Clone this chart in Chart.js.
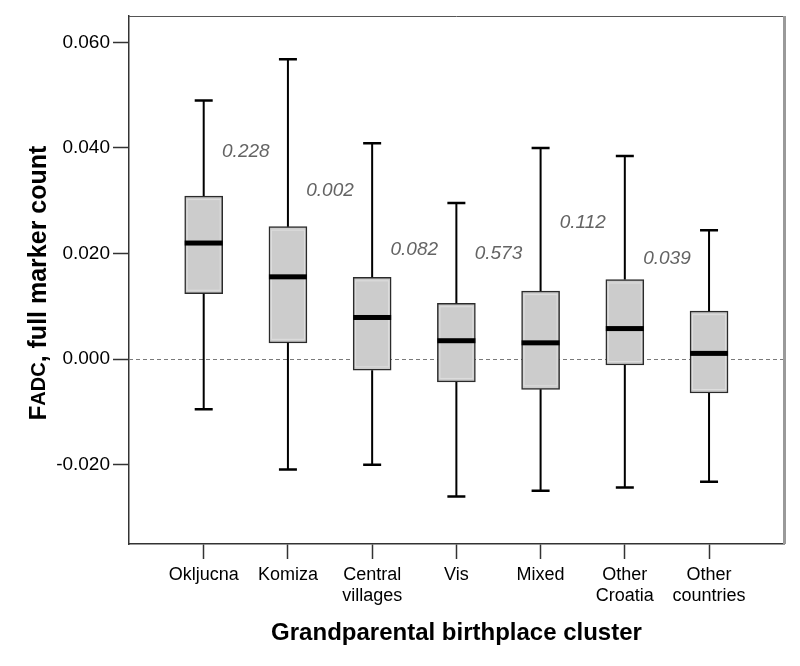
<!DOCTYPE html>
<html>
<head>
<meta charset="utf-8">
<script src="https://cdn.jsdelivr.net/npm/chart.js@4"></script>
<style>
  html, body { margin: 0; padding: 0; background: #fff; }
  #wrap { width: 800px; height: 666px; }
</style>
</head>
<body>
<div id="wrap"><canvas id="myChart" width="800" height="666"></canvas></div>
<script>
// categories (multi-line labels)
let categories = [
    ['Okljucna'],
    ['Komiza'],
    ['Central', 'villages'],
    ['Vis'],
    ['Mixed'],
    ['Other', 'Croatia'],
    ['Other', 'countries'],
];

// box plot values
let whiskerHigh = [0.0490, 0.0568, 0.0409, 0.0296, 0.0400, 0.0385, 0.0244];
let q3          = [0.0309, 0.0251, 0.0155, 0.0106, 0.0129, 0.0151, 0.0091];
let median      = [0.0220, 0.0156, 0.0079, 0.0035, 0.0031, 0.0058, 0.0011];
let q1          = [0.0124, 0.0031, -0.0021, -0.0043, -0.0057, -0.0011, -0.0064];
let whiskerLow  = [-0.0095, -0.0209, -0.0200, -0.0260, -0.0249, -0.0243, -0.0232];

// p-values between neighbouring clusters
let pValues = ['0.228', '0.002', '0.082', '0.573', '0.112', '0.039'];
let pValueY = [0.0393, 0.0319, 0.0208, 0.0199, 0.0258, 0.0191];

let yTicks = [-0.020, 0.000, 0.020, 0.040, 0.060];

let boxData = categories.map(function (c, i) {
    return { x: i, y: [q1[i], q3[i]] };
});

// draws zero line, whiskers, medians, p-values, titles
let boxPlugin = {
    id: 'boxExtras',
    beforeDatasetsDraw: function (chart) {
        let ctx = chart.ctx;
        let area = chart.chartArea;
        let y0 = Math.round(chart.scales.y.getPixelForValue(0)) + 0.5;
        ctx.save();
        ctx.strokeStyle = '#7a7a7a';
        ctx.lineWidth = 1;
        ctx.setLineDash([4, 3]);
        ctx.beginPath();
        ctx.moveTo(area.left, y0);
        ctx.lineTo(area.right, y0);
        ctx.stroke();
        ctx.restore();
    },
    afterDatasetsDraw: function (chart) {
        let ctx = chart.ctx;
        let xs = chart.scales.x;
        let ys = chart.scales.y;
        ctx.save();
        categories.forEach(function (c, i) {
            let x = xs.getPixelForValue(i);
            let top = ys.getPixelForValue(q3[i]);
            let bot = ys.getPixelForValue(q1[i]);
            let hi = ys.getPixelForValue(whiskerHigh[i]);
            let lo = ys.getPixelForValue(whiskerLow[i]);
            let med = ys.getPixelForValue(median[i]);

            // lighter inner edge of the box
            ctx.strokeStyle = '#dedede';
            ctx.lineWidth = 1;
            ctx.strokeRect(x - 16.5, top + 3.5, 33, bot - top - 7);

            // whiskers
            ctx.strokeStyle = '#000';
            ctx.lineWidth = 2;
            ctx.beginPath();
            ctx.moveTo(x, top);
            ctx.lineTo(x, hi);
            ctx.moveTo(x, bot);
            ctx.lineTo(x, lo);
            ctx.stroke();
            ctx.lineWidth = 2.5;
            ctx.beginPath();
            ctx.moveTo(x - 9, hi);
            ctx.lineTo(x + 9, hi);
            ctx.moveTo(x - 9, lo);
            ctx.lineTo(x + 9, lo);
            ctx.stroke();

            // median
            ctx.fillStyle = '#000';
            ctx.fillRect(x - 19, med - 2.5, 38, 5);
        });

        // p-values
        ctx.fillStyle = '#646464';
        ctx.font = 'italic 19px "Liberation Sans", Arial, sans-serif';
        ctx.textAlign = 'center';
        ctx.textBaseline = 'middle';
        pValues.forEach(function (p, i) {
            ctx.fillText(p, xs.getPixelForValue(i + 0.5), ys.getPixelForValue(pValueY[i]));
        });
        ctx.restore();
    },
    afterDraw: function (chart) {
        let ctx = chart.ctx;
        let area = chart.chartArea;
        ctx.save();
        // frame top and right
        ctx.strokeStyle = '#555';
        ctx.lineWidth = 1;
        ctx.beginPath();
        ctx.moveTo(area.left, area.top + 0.5);
        ctx.lineTo(area.right, area.top + 0.5);
        ctx.stroke();
        ctx.strokeStyle = '#9a9a9a';
        ctx.lineWidth = 3;
        ctx.beginPath();
        ctx.moveTo(area.right + 0.5, area.top);
        ctx.lineTo(area.right + 0.5, area.bottom);
        ctx.stroke();

        // x title
        ctx.fillStyle = '#000';
        ctx.font = 'bold 24px "Liberation Sans", Arial, sans-serif';
        ctx.textAlign = 'center';
        ctx.textBaseline = 'middle';
        ctx.fillText('Grandparental birthplace cluster', (area.left + area.right) / 2, 633);

        // y title with subscript
        let partF = 'F';
        let partSub = 'ADC';
        let partRest = ', full marker count';
        let fF = 'bold 24px "Liberation Sans", Arial, sans-serif';
        let fSub = 'bold 20px "Liberation Sans", Arial, sans-serif';
        let fRest = 'bold 25px "Liberation Sans", Arial, sans-serif';
        ctx.font = fF; let wF = ctx.measureText(partF).width;
        ctx.font = fSub; let wSub = ctx.measureText(partSub).width;
        ctx.font = fRest; let wRest = ctx.measureText(partRest).width;
        let total = wF + wSub + wRest;
        ctx.translate(46, 283);
        ctx.rotate(-Math.PI / 2);
        ctx.textAlign = 'left';
        ctx.textBaseline = 'alphabetic';
        let sx = -total / 2;
        ctx.font = fF; ctx.fillText(partF, sx, 0);
        ctx.font = fSub; ctx.fillText(partSub, sx + wF, -1);
        ctx.font = fRest; ctx.fillText(partRest, sx + wF + wSub, 0);
        ctx.restore();
    }
};

let config = {
    type: 'bar',
    data: {
        datasets: [{
            label: 'FADC',
            data: boxData,
            backgroundColor: '#cccccc',
            borderColor: '#2b2b2b',
            borderWidth: 1.5,
            borderSkipped: false,
            barThickness: 38,
        }]
    },
    options: {
        responsive: false,
        animation: false,
        layout: { padding: { top: 16, right: 16, left: 0, bottom: 0 } },
        plugins: {
            legend: { display: false },
            tooltip: { enabled: false },
        },
        scales: {
            x: {
                type: 'linear',
                min: -0.887,
                max: 6.89,
                offset: false,
                afterBuildTicks: function (scale) {
                    scale.ticks = categories.map(function (c, i) { return { value: i }; });
                },
                afterFit: function (scale) { scale.height = 122; },
                grid: {
                    offset: false,
                    drawOnChartArea: false,
                    tickLength: 15,
                    tickColor: '#333',
                    tickWidth: 1.5,
                },
                border: { color: '#333', width: 1.5 },
                ticks: {
                    autoSkip: false,
                    maxRotation: 0,
                    padding: 5,
                    color: '#000',
                    font: { family: '"Liberation Sans", Arial, sans-serif', size: 18 },
                    callback: function (value) {
                        return categories[Math.round(value)];
                    }
                }
            },
            y: {
                min: -0.035,
                max: 0.065,
                afterBuildTicks: function (scale) {
                    scale.ticks = yTicks.map(function (v) { return { value: v }; });
                },
                afterFit: function (scale) { scale.width = 129; },
                grid: {
                    drawOnChartArea: false,
                    tickLength: 16,
                    tickColor: '#333',
                    tickWidth: 1.5,
                },
                border: { color: '#333', width: 1.5 },
                ticks: {
                    padding: 3,
                    color: '#000',
                    font: { family: '"Liberation Sans", Arial, sans-serif', size: 19 },
                    callback: function (value) {
                        return value.toFixed(3);
                    }
                }
            }
        }
    },
    plugins: [boxPlugin]
};

const myChart = new Chart(document.getElementById('myChart'), config);
</script>
</body>
</html>
